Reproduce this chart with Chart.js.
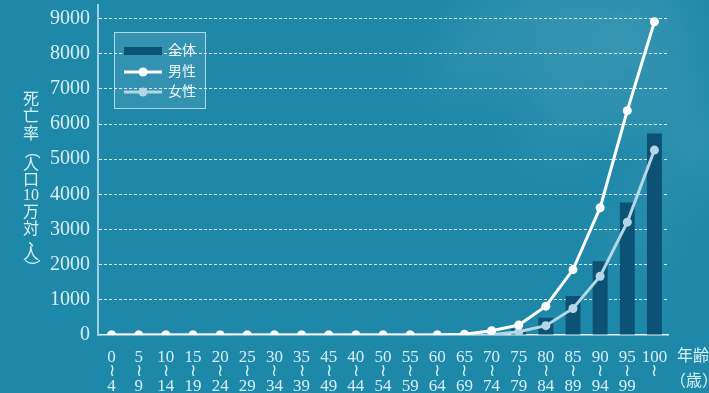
<!DOCTYPE html>
<html>
<head>
<meta charset="utf-8">
<script src="https://cdn.jsdelivr.net/npm/chart.js@4/dist/chart.umd.min.js"></script>
<style>
  html, body { margin: 0; padding: 0; background: #1e88a8; }
  #wrap { width: 709px; height: 393px; position: relative; }
</style>
</head>
<body>
<div id="wrap"><canvas id="grafica"></canvas></div>
<script>
// 年齢階級 (5歳刻み)
const edades = [
    ['0', '≀', '4'], ['5', '≀', '9'], ['10', '≀', '14'], ['15', '≀', '19'],
    ['20', '≀', '24'], ['25', '≀', '29'], ['30', '≀', '34'], ['35', '≀', '39'],
    ['45', '≀', '49'], ['40', '≀', '44'], ['50', '≀', '54'], ['55', '≀', '59'],
    ['60', '≀', '64'], ['65', '≀', '69'], ['70', '≀', '74'], ['75', '≀', '79'],
    ['80', '≀', '84'], ['85', '≀', '89'], ['90', '≀', '94'], ['95', '≀', '99'],
    ['100', '≀']
];

// 死亡率 (人口10万対)
const total = [0, 0, 0, 0, 0, 0, 0, 0, 0, 0, 0, 0, 0, 10, 60, 170, 490, 1110, 2100, 3770, 5730];
const hombres = [0, 0, 0, 0, 0, 0, 0, 0, 0, 0, 0, 0, 0, 20, 120, 285, 820, 1860, 3620, 6380, 8910];
const mujeres = [0, 0, 0, 0, 0, 0, 0, 0, 0, 0, 0, 0, 0, 0, 10, 90, 265, 755, 1670, 3210, 5260];

const marcasY = [0, 1000, 2000, 3000, 4000, 5000, 6000, 7000, 8000, 9000];

// título vertical: caracteres y su altura; los paréntesis se giran
const tituloY = ['死', '亡', '率', '（', '人', '口', '10', '万', '対', '、', '人', '）'];
const tituloYPos = [100, 117, 135, 151, 166, 181, 196, 213, 230, 241, 255, 267];

const FUENTE = "'Liberation Serif', 'Noto Sans CJK JP', serif";
const TEXTO = '#d8eef4';

// fondo con nubes claras arriba a la derecha
const fondo = {
    id: 'fondo',
    beforeDraw(chart) {
        const ctx = chart.ctx;
        ctx.save();
        ctx.fillStyle = '#1e88a8';
        ctx.fillRect(0, 0, chart.width, chart.height);
        const nubes = [
            [620, 40, 110, 0.12], [520, 30, 90, 0.07], [690, 140, 90, 0.07],
            [560, 120, 80, 0.05], [460, 70, 70, 0.04], [640, 230, 70, 0.04]
        ];
        nubes.forEach(([x, y, r, a]) => {
            const g = ctx.createRadialGradient(x, y, 0, x, y, r);
            g.addColorStop(0, `rgba(255,255,255,${a})`);
            g.addColorStop(1, 'rgba(255,255,255,0)');
            ctx.fillStyle = g;
            ctx.fillRect(x - r, y - r, r * 2, r * 2);
        });
        ctx.restore();
    }
};

// leyenda dentro del área y textos de ejes
const textos = {
    id: 'textos',
    afterDraw(chart) {
        const ctx = chart.ctx;
        const porNombre = n => chart.data.datasets.find(d => d.label === n);
        const barra = porNombre('全体');
        ctx.save();

        ctx.fillStyle = 'rgba(255,255,255,0.09)';
        ctx.fillRect(114, 32, 91, 76);
        ctx.strokeStyle = 'rgba(225,240,245,0.75)';
        ctx.lineWidth = 1;
        ctx.strokeRect(114.5, 32.5, 91, 76);

        ctx.font = '14px ' + FUENTE;
        ctx.textBaseline = 'middle';
        ctx.textAlign = 'left';

        ctx.fillStyle = barra.backgroundColor;
        ctx.fillRect(124, 47, 38, 8);
        ctx.fillStyle = '#eef7fa';
        ctx.fillText(barra.label, 168, 51);

        [[porNombre('男性'), 72], [porNombre('女性'), 92]].forEach(([d, y]) => {
            ctx.strokeStyle = d.borderColor;
            ctx.lineWidth = 3;
            ctx.beginPath();
            ctx.moveTo(124, y);
            ctx.lineTo(162, y);
            ctx.stroke();
            ctx.fillStyle = d.pointBackgroundColor;
            ctx.beginPath();
            ctx.arc(143, y, 4.5, 0, Math.PI * 2);
            ctx.fill();
            ctx.fillStyle = '#eef7fa';
            ctx.fillText(d.label, 168, y);
        });

        // título vertical del eje y
        ctx.fillStyle = TEXTO;
        ctx.font = '16px ' + FUENTE;
        ctx.textAlign = 'center';
        tituloY.forEach((c, i) => {
            const y = tituloYPos[i];
            if (c === '（' || c === '）') {
                ctx.save();
                ctx.translate(31, y);
                ctx.rotate(Math.PI / 2);
                ctx.fillText(c, 0, 0);
                ctx.restore();
            } else {
                const dx = c === '、' ? 5 : 0;
                ctx.fillText(c, 31 + dx, y);
            }
        });

        ctx.textAlign = 'left';
        ctx.fillText('年齢', 677, 357);
        ctx.fillText('（歳）', 670, 382);
        ctx.restore();
    }
};

const config = {
    data: {
        labels: edades,
        datasets: [
            {
                type: 'bar',
                label: '全体',
                data: total,
                backgroundColor: '#0b5274',
                barPercentage: 0.55,
                categoryPercentage: 1,
                order: 2
            },
            {
                type: 'line',
                label: '男性',
                data: hombres,
                borderColor: '#ffffff',
                backgroundColor: '#ffffff',
                pointBackgroundColor: '#ffffff',
                pointBorderWidth: 0,
                pointRadius: 4.5,
                borderWidth: 3,
                order: 0
            },
            {
                type: 'line',
                label: '女性',
                data: mujeres,
                borderColor: '#b4d6e6',
                backgroundColor: '#b4d6e6',
                pointBackgroundColor: '#b4d6e6',
                pointBorderWidth: 0,
                pointRadius: 4.5,
                borderWidth: 3,
                order: 1
            }
        ]
    },
    options: {
        responsive: true,
        maintainAspectRatio: false,
        animation: false,
        layout: { padding: { top: 3, right: 41, left: 0, bottom: 0 } },
        plugins: {
            legend: { display: false },
            tooltip: { enabled: false }
        },
        scales: {
            x: {
                offset: true,
                grid: { display: false, drawTicks: false },
                border: { display: true, color: '#e4f2f6', width: 1.5 },
                ticks: {
                    color: TEXTO,
                    padding: 15,
                    maxRotation: 0,
                    autoSkip: false,
                    font: { family: FUENTE, size: 17, lineHeight: 0.86 }
                },
                afterFit(scale) { scale.height = 58; }
            },
            y: {
                type: 'linear',
                min: 0,
                max: 9400,
                ticks: {
                    color: TEXTO,
                    padding: 8,
                    autoSkip: false,
                    font: { family: FUENTE, size: 20 },
                    callback: v => String(v)
                },
                afterBuildTicks(scale) {
                    scale.ticks = marcasY.map(v => ({ value: v }));
                },
                grid: {
                    drawTicks: false,
                    color: ctx => (ctx.tick && ctx.tick.value === 0) ? 'rgba(0,0,0,0)' : 'rgba(255,255,255,0.85)',
                    lineWidth: 1
                },
                border: { display: true, color: '#9fcfdf', width: 2, dash: [3, 2] },
                afterFit(scale) {
                    scale.width = 98;
                    scale.paddingTop = 0;
                    scale.paddingBottom = 0;
                }
            }
        }
    },
    plugins: [fondo, textos]
};

new Chart(document.getElementById('grafica').getContext('2d'), config);
</script>
</body>
</html>
